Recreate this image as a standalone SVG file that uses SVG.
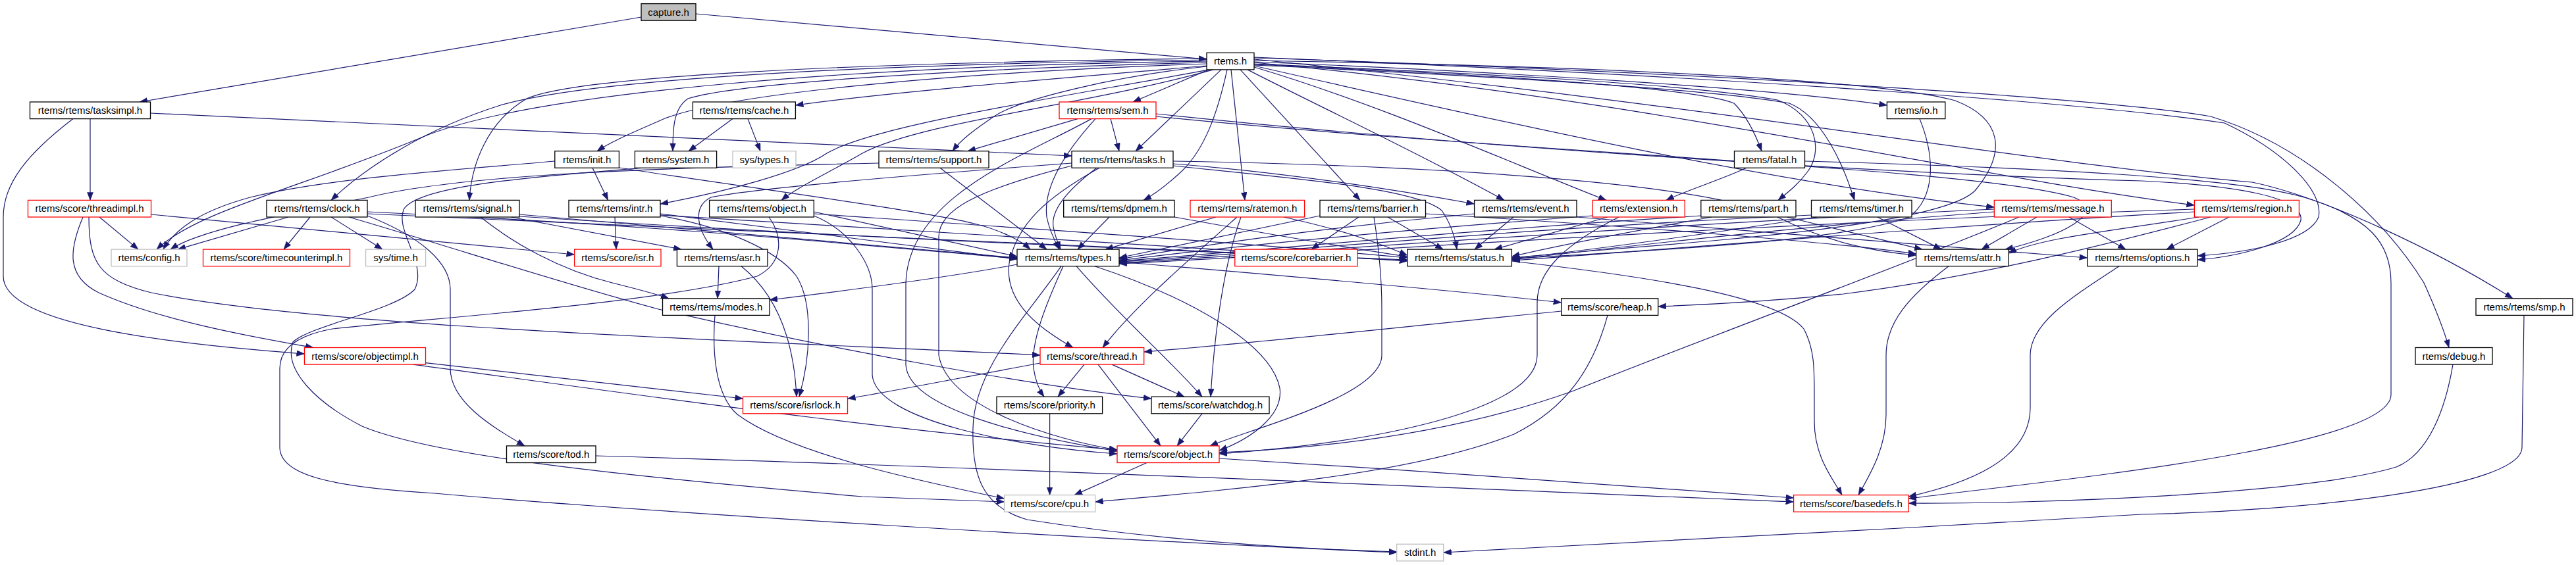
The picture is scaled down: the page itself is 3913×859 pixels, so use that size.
<svg xmlns="http://www.w3.org/2000/svg" width="3913" height="859" viewBox="0 0 3913 859">
<style>
.node rect{fill:#fff;stroke:#000;stroke-width:1.3}
.node.red rect{stroke:#ff0000}
.node.gry rect{stroke:#bfbfbf}
.node.root rect{fill:#bfbfbf;stroke:#000}
.node text{font-family:"Liberation Sans",Arial,sans-serif;font-size:15px;fill:#000;text-anchor:middle}
#edges path{fill:none;stroke:#191970;stroke-width:1.2;marker-end:url(#arr)}
</style>
<defs>
<marker id="arr" markerUnits="userSpaceOnUse" markerWidth="13" markerHeight="10" refX="12" refY="4.5" orient="auto">
<path d="M0,0 L12,4.5 L0,9 z" fill="#191970" stroke="#191970" stroke-width="0.5"/>
</marker>
</defs>
<rect width="3913" height="859" fill="#fff"/>
<g id="edges">
<path d="M1057,21 L1833,90"/>
<path d="M974,26 L212,155"/>
<path d="M137,180.6 L137,304.4"/>
<path d="M228.5,172 L1628,237"/>
<path d="M111,180.6 C40,235 5,280 5,330 L5,420 C5,500 300,525 462.5,538"/>
<path d="M151,330 L210,379.1"/>
<path d="M126,330 C105,380 100,420 150,445 C250,490 400,515 476,528.5"/>
<path d="M135,330 C135,400 150,425 230,445 C500,500 1200,520 1580,540"/>
<path d="M229.5,326 L872.6,387"/>
<path d="M1833,100 C1600,120 1350,140 1208.4,160"/>
<path d="M1833,97 C1500,108 1120,138 1010,180 C965,200 930,214 907,229.7"/>
<path d="M1833,95 C1500,103 1120,125 1045,150 C1022,165 1022,200 1022,229.7"/>
<path d="M1833,93 C1300,100 820,140 650,205 C460,285 300,320 238,379.1"/>
<path d="M1833,91 C1300,98 900,120 760,160 C650,195 560,250 503,304.4"/>
<path d="M1833,89 C1250,96 870,118 800,150 C740,185 716,250 713,304.4"/>
<path d="M1837,105.9 C1600,150 1330,190 1256,233 C1214,262 1100,292 1003,310"/>
<path d="M1843,105.9 C1650,160 1400,185 1310,233 C1260,262 1210,285 1187,304.4"/>
<path d="M1833,101 C1700,115 1550,150 1510,177 C1482,196 1460,212 1447,229.7"/>
<path d="M1836,105.9 L1721,155"/>
<path d="M1855,105.9 L1725,229.7"/>
<path d="M1864,105.9 C1850,170 1830,230 1790,265 C1770,283 1755,295 1737,304.4"/>
<path d="M1870,105.9 L1891,304.4"/>
<path d="M1884,105.9 L2066,304.4"/>
<path d="M1895,105.9 C2000,160 2150,230 2285,304.4"/>
<path d="M1905,102 C2100,160 2300,250 2440,304.4"/>
<path d="M1905,97 C2200,110 2550,125 2700,152 C2760,175 2770,230 2745,262 C2730,282 2715,293 2701,304.4"/>
<path d="M1905,99 C2250,115 2600,135 2718,157 C2768,177 2800,250 2817,304.4"/>
<path d="M1905,100 C2300,190 2700,280 3029.3,315"/>
<path d="M1905,95 C2500,150 3000,270 3333.4,312"/>
<path d="M1905,94 C2300,110 2700,135 2866.4,160"/>
<path d="M1905,98 C2300,115 2580,135 2634,157 C2652,175 2665,200 2676,229.7"/>
<path d="M1905,88 C2600,110 3200,150 3358,177 C3500,220 3620,330 3682,430 C3700,470 3712,500 3720,528.5"/>
<path d="M1905,90 C2600,160 3100,250 3421,277 C3531,300 3700,380 3817,453.8"/>
<path d="M1905,92 C2400,100 2850,120 2970,153 C3040,180 3050,230 3000,290 C2940,350 2500,372 2296.4,392"/>
<path d="M1905,87 C2700,120 3200,160 3379,187 C3470,230 3530,290 3522,330 C3508,365 3420,384 3338,389"/>
<path d="M1637,180.6 L1470,229.7"/>
<path d="M1687,180.6 L1700,229.7"/>
<path d="M1664,180.6 C1610,240 1585,290 1590,330 C1594,350 1602,366 1609,379.1"/>
<path d="M1658,180.6 C1550,240 1380,300 1376,430 L1376,555 C1380,620 1550,662 1697,686"/>
<path d="M1756,173 C2300,230 2900,265 3253,275 C3400,282 3500,300 3495,335 C3485,370 3400,390 3338,395"/>
<path d="M1756,177 C2300,232 3000,255 3150,300 C3205,322 3130,360 3046,379.1"/>
<path d="M1666,255.3 C1620,290 1596,320 1600,345 C1603,360 1607,370 1611,379.1"/>
<path d="M1670,255.3 C1590,300 1545,340 1533,400 C1525,460 1580,500 1630,528.5"/>
<path d="M1628,252 C1480,290 1426,320 1426,360 L1426,540 C1440,620 1600,668 1697,684"/>
<path d="M1782,249 C1950,262 2100,285 2239.6,310"/>
<path d="M1782,252 C1950,270 2150,285 2190,320 C2204,340 2210,360 2213,379.1"/>
<path d="M1782,245 C2200,252 2600,280 2700,330 C2780,370 2850,383 2910.6,388"/>
<path d="M1628,248 C1400,265 1150,285 1080,300 C1050,315 1060,350 1083,379.1"/>
<path d="M1428,255.3 L1590,379.1"/>
<path d="M1335,248 C1000,255 700,265 560,300 C400,332 300,352 259,379.1"/>
<path d="M842.8,245 C700,258 500,270 380,300 C300,322 265,350 248,379.1"/>
<path d="M900,255.3 L923.6,304.4"/>
<path d="M940.4,255 C1100,280 1400,320 1480,340 C1520,350 1550,365 1565,379.1"/>
<path d="M1113,180.6 L1046,229.7"/>
<path d="M1136,180.6 L1155,229.7"/>
<path d="M975,255.3 C800,270 640,282 614,317 C598,350 650,400 630,440 C600,472 470,495 445,520 C430,562 480,612 550,648 C650,690 900,720 1310,755 L1525.6,763"/>
<path d="M1168,330 C1190,360 1190,400 1150,420 C1000,460 700,480 505,500 C450,510 425,530 425,560 L425,680 C425,722 500,740 660,750 C1000,780 1700,822 2121.7,840"/>
<path d="M1236.3,328 C1290,350 1325,400 1325,440 L1325,570 C1330,640 1550,680 1697,690"/>
<path d="M1236.3,322 L1545,390"/>
<path d="M1236.3,325 C1600,350 1900,370 2137.7,392"/>
<path d="M776,330 L1035,379.1"/>
<path d="M730,330 C780,370 850,410 930,430 C970,440 1000,448 1016,453.8"/>
<path d="M789,326 L1545,392"/>
<path d="M789,329 C1300,362 1800,382 2137.7,395"/>
<path d="M438,330 L270,379.1"/>
<path d="M471,330 L431,379.1"/>
<path d="M503,330 L581,379.1"/>
<path d="M558,328 C640,360 684,400 684,440 L684,560 C684,612 750,650 797,677.9"/>
<path d="M530,330 C700,380 850,430 1000,470 C1300,540 1600,590 1749,606"/>
<path d="M558,322 C1000,342 1300,372 1545,393"/>
<path d="M558,325 C1200,352 1800,377 2137.7,396"/>
<path d="M934,330 L936,379.1"/>
<path d="M1003,328 C1100,345 1180,380 1210,420 C1235,460 1232,540 1214,603.2"/>
<path d="M1003,325 L1545,394"/>
<path d="M1003,327 C1500,357 1900,382 2137.7,397"/>
<path d="M1092,404.7 L1090,453.8"/>
<path d="M1126,404.7 C1170,440 1205,500 1210,603.2"/>
<path d="M1545,402 C1450,420 1300,440 1169,456"/>
<path d="M1612,404.7 C1560,480 1480,560 1478,650 C1476,720 1490,770 1560,790 C1750,820 1950,834 2121.7,839"/>
<path d="M1615,404.7 C1590,460 1565,520 1570,560 C1573,580 1580,595 1586,603.2"/>
<path d="M1635,404.7 C1700,480 1780,550 1826,603.2"/>
<path d="M1663,404.7 C1800,450 1930,520 1944,590 C1950,632 1900,667 1852,685"/>
<path d="M1700,398 C1900,415 2200,440 2371.7,460"/>
<path d="M1647,554.1 L1607,603.2"/>
<path d="M1689,554.1 L1799,603.2"/>
<path d="M1668,554.1 L1763,677.9"/>
<path d="M1580,552 C1450,576 1350,596 1287.5,606"/>
<path d="M1826,628.8 L1788,677.9"/>
<path d="M1594.6,628.8 L1594.6,752.6"/>
<path d="M1742,703.5 L1632,752.6"/>
<path d="M1852,697 C2150,715 2500,740 2724.6,757"/>
<path d="M905,693 C1500,710 2300,746 2724.6,763"/>
<path d="M1086,479.4 C1082,530 1085,600 1120,630 C1200,690 1400,732 1525.6,758"/>
<path d="M2442,479.4 C2420,560 2380,620 2300,660 C2150,720 1900,742 1663.6,763"/>
<path d="M2371.7,473 C2100,500 1900,522 1737.7,535"/>
<path d="M646.5,551.7 L1128.5,606"/>
<path d="M627,554.1 C900,590 1300,650 1697,684"/>
<path d="M2064,330 L1992,379.1"/>
<path d="M2108,330 L2192,379.1"/>
<path d="M2087,330 C2095,380 2099,420 2099,470 L2099,540 C2099,602 1900,652 1838,677.9"/>
<path d="M2005,328 C1900,350 1800,372 1700,392"/>
<path d="M2165.5,325 C2500,345 2800,370 2910.6,386"/>
<path d="M2299,330 L2240,379.1"/>
<path d="M2239.6,325 C2000,347 1800,377 1700,394"/>
<path d="M2395,330 C2700,352 3000,377 3170.7,392"/>
<path d="M2442,330 L2270,379.1"/>
<path d="M2459,330 C2380,370 2335,410 2335,460 L2335,540 C2335,622 2100,672 1852,690"/>
<path d="M2419.3,328 C2100,352 1850,377 1700,396"/>
<path d="M2714,330 L2920,379.1"/>
<path d="M2600,330 C2450,357 2350,377 2296.4,390"/>
<path d="M2583.8,328 C2200,352 1900,382 1700,397"/>
<path d="M2852,330 L2949,379.1"/>
<path d="M2760,330 C2550,362 2400,382 2296.4,393"/>
<path d="M2751.5,327 C2300,347 1900,387 1700,398"/>
<path d="M3094,330 L3010,379.1"/>
<path d="M3143,330 L3229,379.1"/>
<path d="M3067,330 C2900,400 2600,510 2388,595 C2200,662 2000,682 1852,688"/>
<path d="M3029.3,322 C2700,347 2450,377 2296.4,395"/>
<path d="M3029.3,318 C2500,342 2000,382 1700,400"/>
<path d="M3386,330 L3291,379.1"/>
<path d="M3358,330 C3200,372 3000,422 2800,447 C2700,457 2600,463 2518.7,466"/>
<path d="M3340,330 C3200,352 3100,362 3051.2,385"/>
<path d="M3333.4,322 C2900,347 2500,382 2296.4,396"/>
<path d="M3333.4,318 C2600,342 2000,387 1700,401"/>
<path d="M2916,180.6 C2940,240 2940,300 2900,330 C2800,367 2500,382 2296.4,393"/>
<path d="M2653,255.3 C2610,275 2560,290 2531,304.4"/>
<path d="M2741.5,245 C3100,255 3400,270 3500,300 C3600,330 3632,370 3632,430 L3632,600 C3632,682 3100,732 2899.2,758"/>
<path d="M3726,554.1 C3715,620 3690,690 3640,710 C3500,752 3100,766 2899.2,765"/>
<path d="M3834,479.4 L3831,680 C3831,742 3500,777 3253,782 C2900,802 2500,826 2192.7,840"/>
<path d="M3219,404.7 C3150,450 3084,490 3084,540 L3084,620 C3084,702 2980,737 2899.2,755"/>
<path d="M2960,404.7 C2900,450 2865,490 2865,540 L2865,630 C2865,682 2840,722 2823,752.6"/>
<path d="M2296.4,397 C2500,420 2700,450 2740,500 C2756,530 2756,560 2756,600 L2756,640 C2756,692 2780,722 2798,752.6"/>
<path d="M1847,330 L1679,379.1"/>
<path d="M1879,330 C1800,400 1720,470 1675,528.5"/>
<path d="M1885,330 C1860,400 1845,500 1839,603.2"/>
<path d="M1950,330 C2050,352 2100,372 2137.7,388"/>
<path d="M1685,330 L1637,379.1"/>
<path d="M1784,330 C1950,360 2050,377 2137.7,390"/>
</g>
<g id="node-capture" class="node root"><rect x="974" y="5.6" width="83" height="25.6"/><text x="1015.5" y="23.6">capture.h</text></g>
<g id="node-rtems" class="node"><rect x="1833" y="80.3" width="72" height="25.6"/><text x="1869" y="98.3">rtems.h</text></g>
<g id="node-tasksimpl" class="node"><rect x="45.5" y="155" width="183" height="25.6"/><text x="137" y="173">rtems/rtems/tasksimpl.h</text></g>
<g id="node-sem" class="node red"><rect x="1609" y="155" width="147" height="25.6"/><text x="1682.5" y="173">rtems/rtems/sem.h</text></g>
<g id="node-cache" class="node"><rect x="1052.4" y="155" width="156" height="25.6"/><text x="1130.4" y="173">rtems/rtems/cache.h</text></g>
<g id="node-io" class="node"><rect x="2866.4" y="155" width="88.4" height="25.6"/><text x="2910.6" y="173">rtems/io.h</text></g>
<g id="node-init" class="node"><rect x="842.8" y="229.7" width="97.6" height="25.6"/><text x="891.6" y="247.7">rtems/init.h</text></g>
<g id="node-system" class="node"><rect x="964.4" y="229.7" width="124.2" height="25.6"/><text x="1026.5" y="247.7">rtems/system.h</text></g>
<g id="node-systypes" class="node gry"><rect x="1113" y="229.7" width="96" height="25.6"/><text x="1161" y="247.7">sys/types.h</text></g>
<g id="node-support" class="node"><rect x="1335" y="229.7" width="167" height="25.6"/><text x="1418.5" y="247.7">rtems/rtems/support.h</text></g>
<g id="node-tasks" class="node"><rect x="1628" y="229.7" width="154" height="25.6"/><text x="1705" y="247.7">rtems/rtems/tasks.h</text></g>
<g id="node-fatal" class="node"><rect x="2634.5" y="229.7" width="107" height="25.6"/><text x="2688" y="247.7">rtems/fatal.h</text></g>
<g id="node-threadimpl" class="node red"><rect x="42.5" y="304.4" width="187" height="25.6"/><text x="136" y="322.4">rtems/score/threadimpl.h</text></g>
<g id="node-clock" class="node"><rect x="405" y="304.4" width="153" height="25.6"/><text x="481.5" y="322.4">rtems/rtems/clock.h</text></g>
<g id="node-signal" class="node"><rect x="631" y="304.4" width="158" height="25.6"/><text x="710" y="322.4">rtems/rtems/signal.h</text></g>
<g id="node-intr" class="node"><rect x="864" y="304.4" width="139" height="25.6"/><text x="933.5" y="322.4">rtems/rtems/intr.h</text></g>
<g id="node-object" class="node"><rect x="1077.6" y="304.4" width="158.7" height="25.6"/><text x="1157" y="322.4">rtems/rtems/object.h</text></g>
<g id="node-dpmem" class="node"><rect x="1615.7" y="304.4" width="168.3" height="25.6"/><text x="1699.9" y="322.4">rtems/rtems/dpmem.h</text></g>
<g id="node-ratemon" class="node red"><rect x="1808" y="304.4" width="173.6" height="25.6"/><text x="1894.8" y="322.4">rtems/rtems/ratemon.h</text></g>
<g id="node-barrier" class="node"><rect x="2005" y="304.4" width="160.5" height="25.6"/><text x="2085.3" y="322.4">rtems/rtems/barrier.h</text></g>
<g id="node-event" class="node"><rect x="2239.6" y="304.4" width="155.4" height="25.6"/><text x="2317.3" y="322.4">rtems/rtems/event.h</text></g>
<g id="node-extension" class="node red"><rect x="2419.3" y="304.4" width="140" height="25.6"/><text x="2489.3" y="322.4">rtems/extension.h</text></g>
<g id="node-part" class="node"><rect x="2583.8" y="304.4" width="144.2" height="25.6"/><text x="2655.9" y="322.4">rtems/rtems/part.h</text></g>
<g id="node-timer" class="node"><rect x="2751.5" y="304.4" width="152.5" height="25.6"/><text x="2827.8" y="322.4">rtems/rtems/timer.h</text></g>
<g id="node-message" class="node red"><rect x="3029.3" y="304.4" width="178" height="25.6"/><text x="3118.3" y="322.4">rtems/rtems/message.h</text></g>
<g id="node-region" class="node red"><rect x="3333.4" y="304.4" width="159" height="25.6"/><text x="3412.9" y="322.4">rtems/rtems/region.h</text></g>
<g id="node-config" class="node gry"><rect x="169" y="379.1" width="115" height="25.6"/><text x="226.5" y="397.1">rtems/config.h</text></g>
<g id="node-timecounterimpl" class="node red"><rect x="308.5" y="379.1" width="223" height="25.6"/><text x="420" y="397.1">rtems/score/timecounterimpl.h</text></g>
<g id="node-systime" class="node gry"><rect x="555.6" y="379.1" width="91" height="25.6"/><text x="601.1" y="397.1">sys/time.h</text></g>
<g id="node-isr" class="node red"><rect x="872.6" y="379.1" width="131.4" height="25.6"/><text x="938.3" y="397.1">rtems/score/isr.h</text></g>
<g id="node-asr" class="node"><rect x="1028.4" y="379.1" width="137.6" height="25.6"/><text x="1097.2" y="397.1">rtems/rtems/asr.h</text></g>
<g id="node-types" class="node"><rect x="1545" y="379.1" width="155" height="25.6"/><text x="1622.5" y="397.1">rtems/rtems/types.h</text></g>
<g id="node-corebarrier" class="node red"><rect x="1875.8" y="379.1" width="186.2" height="25.6"/><text x="1968.9" y="397.1">rtems/score/corebarrier.h</text></g>
<g id="node-status" class="node"><rect x="2137.7" y="379.1" width="158.7" height="25.6"/><text x="2217" y="397.1">rtems/rtems/status.h</text></g>
<g id="node-attr" class="node"><rect x="2910.6" y="379.1" width="140.6" height="25.6"/><text x="2980.9" y="397.1">rtems/rtems/attr.h</text></g>
<g id="node-options" class="node"><rect x="3170.7" y="379.1" width="167.3" height="25.6"/><text x="3254.3" y="397.1">rtems/rtems/options.h</text></g>
<g id="node-modes" class="node"><rect x="1006.5" y="453.8" width="162.5" height="25.6"/><text x="1087.8" y="471.8">rtems/rtems/modes.h</text></g>
<g id="node-heap" class="node"><rect x="2371.7" y="453.8" width="147" height="25.6"/><text x="2445.2" y="471.8">rtems/score/heap.h</text></g>
<g id="node-smp" class="node"><rect x="3761" y="453.8" width="147" height="25.6"/><text x="3834.5" y="471.8">rtems/rtems/smp.h</text></g>
<g id="node-objectimpl" class="node red"><rect x="462.5" y="528.5" width="184" height="25.6"/><text x="554.5" y="546.5">rtems/score/objectimpl.h</text></g>
<g id="node-thread" class="node red"><rect x="1580" y="528.5" width="157.7" height="25.6"/><text x="1658.9" y="546.5">rtems/score/thread.h</text></g>
<g id="node-debug" class="node"><rect x="3669" y="528.5" width="117" height="25.6"/><text x="3727.5" y="546.5">rtems/debug.h</text></g>
<g id="node-isrlock" class="node red"><rect x="1128.5" y="603.2" width="159" height="25.6"/><text x="1208" y="621.2">rtems/score/isrlock.h</text></g>
<g id="node-priority" class="node"><rect x="1514" y="603.2" width="160.6" height="25.6"/><text x="1594.3" y="621.2">rtems/score/priority.h</text></g>
<g id="node-watchdog" class="node"><rect x="1749" y="603.2" width="179" height="25.6"/><text x="1838.5" y="621.2">rtems/score/watchdog.h</text></g>
<g id="node-tod" class="node"><rect x="769.5" y="677.9" width="135.5" height="25.6"/><text x="837.3" y="695.9">rtems/score/tod.h</text></g>
<g id="node-scoreobject" class="node red"><rect x="1697" y="677.9" width="155" height="25.6"/><text x="1774.5" y="695.9">rtems/score/object.h</text></g>
<g id="node-cpu" class="node gry"><rect x="1525.6" y="752.6" width="138" height="25.6"/><text x="1594.6" y="770.6">rtems/score/cpu.h</text></g>
<g id="node-basedefs" class="node red"><rect x="2724.6" y="752.6" width="174.6" height="25.6"/><text x="2811.9" y="770.6">rtems/score/basedefs.h</text></g>
<g id="node-stdint" class="node gry"><rect x="2121.7" y="827.3" width="71" height="25.6"/><text x="2157.2" y="845.3">stdint.h</text></g>
</svg>
